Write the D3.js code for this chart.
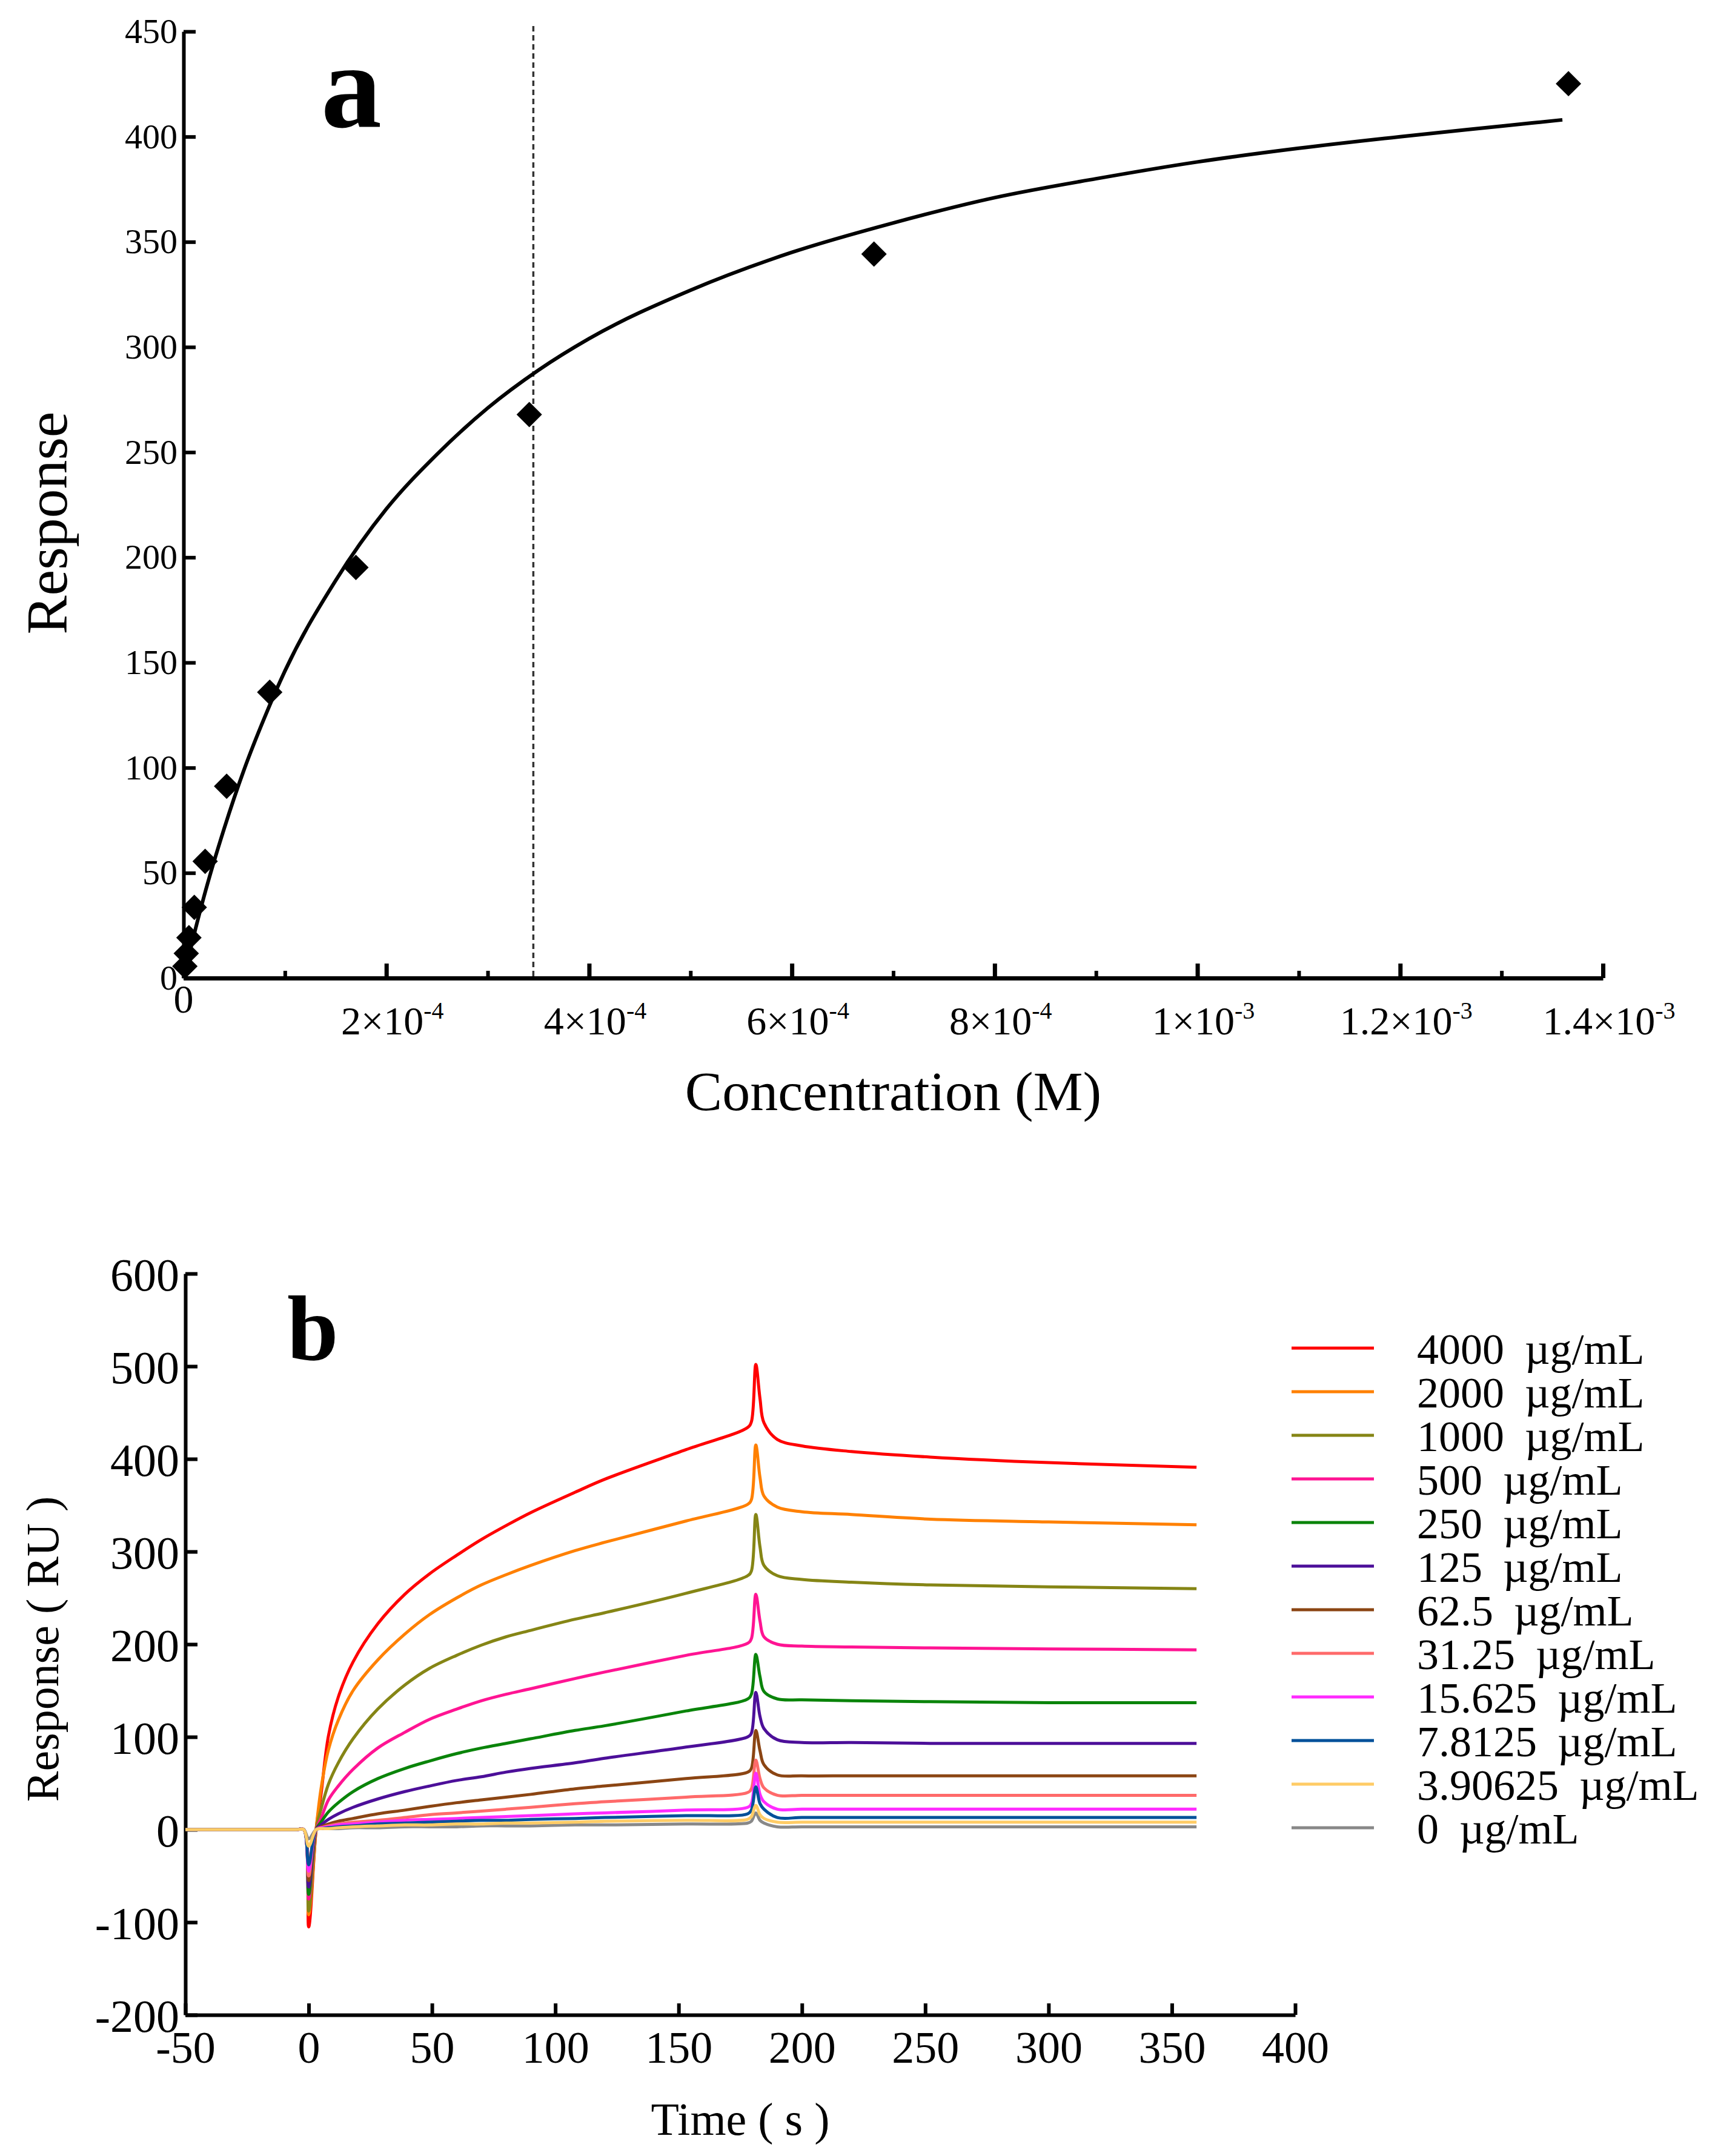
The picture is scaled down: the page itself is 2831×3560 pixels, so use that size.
<!DOCTYPE html>
<html><head><meta charset="utf-8">
<script src="https://cdn.jsdelivr.net/npm/d3@7"></script>
<style>
html,body{margin:0;padding:0;background:#fff;}
svg{display:block;}
text{font-family:"Liberation Serif","Times New Roman",serif;fill:#000;}
</style>
</head><body>
<svg id="chart" width="2831" height="3560"></svg>
<script>
// ---------- Panel a data ----------
const concM   = [1.33e-6, 2.66e-6, 5.3e-6, 1.06e-5, 2.13e-5, 4.25e-5, 8.5e-5, 1.7e-4, 3.41e-4, 6.81e-4, 1.366e-3];
const respA   = [5.6, 11.7, 19.2, 33.6, 55.5, 91.2, 135.9, 195.2, 267.9, 344.2, 425.2];
const fitConc = [0, 1e-5, 2e-5, 4e-5, 6e-5, 8e-5, 1e-4, 1.5e-4, 2e-4, 2.5e-4, 3e-4, 3.5e-4, 4e-4, 5e-4, 6e-4, 7e-4, 8e-4, 9e-4, 1e-3, 1.1e-3, 1.2e-3, 1.3e-3, 1.36e-3];
const fitResp = [0, 20, 38.5, 71, 99.5, 124, 146, 189, 223, 249, 271, 289, 304, 327, 345, 359, 371, 380, 388, 394.5, 400, 405, 408];
const kdLine  = 3.45e-4;
const xTicksA    = [0, 2e-4, 4e-4, 6e-4, 8e-4, 1e-3, 1.2e-3, 1.4e-3];
const xMinorA    = [1e-4, 3e-4, 5e-4, 7e-4, 9e-4, 1.1e-3, 1.3e-3];
const xTickMantA = ["0", "2", "4", "6", "8", "1", "1.2", "1.4"];
const xTickExpA  = ["", "-4", "-4", "-4", "-4", "-3", "-3", "-3"];
const yTicksA    = [0, 50, 100, 150, 200, 250, 300, 350, 400, 450];

// ---------- Panel b data ----------
const timeS = [-50, -5, -2, 0, 3, 5, 8, 12, 18, 28, 39, 49, 60, 70, 80, 90, 108, 120, 153, 178, 179.5, 181.3, 183, 184.6, 190, 200, 220, 252, 300, 360];
const concLabels = ["4000", "2000", "1000", "500", "250", "125", "62.5", "31.25", "15.625", "7.8125", "3.90625", "0"];
const seriesColors = ["#FF0000", "#FF8000", "#858515", "#FF1493", "#0A840A", "#4C0F99", "#8B4513", "#FF6A6A", "#FF2BFF", "#00509A", "#FFCC66", "#888888"];
const r4000   = [0,0,0,-105,0,38,101,143,181,222,254,276,296,313,328,342,364,378,410,434,440,502,465,439,421,414,408,402,396,391];
const r2000   = [0,0,0,-92,0,44,86,118,150,183,211,232,250,264,275,285,301,310,333,351,356,415,380,360,348,343,340,335,332,329];
const r1000   = [0,0,0,-88,0,22,49,72,98,130,156,174,188,199,208,215,227,234,255,274,279,340,305,285,274,270,267,264,262,260];
const r500    = [0,0,0,-75,0,12,32,47,65,88,105,119,130,139,146,152,163,170,188,201,206,254,225,208,200,198,197,196,195,194];
const r250    = [0,0,0,-70,0,8,19,29,41,55,66,74,82,88,93,98,107,112,128,141,146,189,165,149,141,140,139,138,137,137];
const r125    = [0,0,0,-62,0,5,11,17,24,33,41,47,53,57,62,66,72,77,89,100,104,148,122,109,97,94,94,93,93,93];
const r62_5   = [0,0,0,-55,0,3,6,9,12,17,21,25,29,32,35,38,44,47,55,62,66,107,85,70,59,58,58,58,58,58];
const r31_25  = [0,0,0,-50,0,2,4,6,8,10,13,16,18,20,22,24,28,30,35,40,44,75,55,45,37,37,37,37,37,37];
const r15_625 = [0,0,0,-45,0,2,3,5,6,8,10,11,12,13,14,15,17,18,21,24,28,61,38,30,22,22,22,22,22,22];
const r7_8125 = [0,0,0,-38,0,1,2,3,4,6,7,8,9,10,10,11,12,13,15,17,21,46,28,22,13,13,13,13,13,13];
const r3_906  = [0,0,0,-18,0,1,1,2,3,4,5,5,6,6,7,7,8,9,10,11,14,26,16,12,8,8,8,8,8,8];
const r0      = [0,0,0,-10,0,1,1,1,2,2,3,3,3,4,4,4,5,5,6,7,9,18,10,7,3,3,3,3,3,3];
const seriesValues = [r4000, r2000, r1000, r500, r250, r125, r62_5, r31_25, r15_625, r7_8125, r3_906, r0];
const xTicksB = [-50, 0, 50, 100, 150, 200, 250, 300, 350, 400];
const yTicksB = [-200, -100, 0, 100, 200, 300, 400, 500, 600];

const svg = d3.select("#chart");
const FONT = "Liberation Serif";
const hyphenFmt = d => String(d).replace("\u2212", "-");

function styleAxis(g, sw, fs) {
  g.attr("font-family", FONT).attr("font-size", fs);
  g.selectAll("path.domain").attr("stroke", "#000").attr("stroke-width", sw);
  g.selectAll("line").attr("stroke", "#000").attr("stroke-width", sw);
  g.selectAll("text").attr("fill", "#000");
}

// ================= Panel a =================
const xA = d3.scaleLinear().domain([0, 1.4e-3]).range([303, 2646]);
const yA = d3.scaleLinear().domain([0, 450]).range([1615, 52]);
const gA = svg.append("g");

gA.append("line")
  .attr("x1", xA(kdLine)).attr("x2", xA(kdLine))
  .attr("y1", 43).attr("y2", yA(0))
  .attr("stroke", "#333").attr("stroke-width", 3.5).attr("stroke-dasharray", "9,6");

const yAxA = gA.append("g").attr("transform", `translate(${xA(0)},0)`)
  .call(d3.axisLeft(yA).tickValues(yTicksA).tickSizeInner(-20).tickSizeOuter(0).tickPadding(10).tickFormat(hyphenFmt));
styleAxis(yAxA, 6, 58);

const xAxA = gA.append("g").attr("transform", `translate(0,${yA(0)})`)
  .call(d3.axisBottom(xA).tickValues(xTicksA).tickSizeInner(-24).tickSizeOuter(0).tickFormat(""));
styleAxis(xAxA, 7, 58);
const xAxAm = gA.append("g").attr("transform", `translate(0,${yA(0)})`)
  .call(d3.axisBottom(xA).tickValues(xMinorA).tickSizeInner(-12).tickSizeOuter(0).tickFormat(""));
styleAxis(xAxAm, 6, 58);
xAxAm.select("path.domain").remove();

xTicksA.forEach((v, i) => {
  const t = gA.append("text")
    .attr("x", xA(v) + (i === 0 ? 0 : 10))
    .attr("y", i === 0 ? 1672 : 1708)
    .attr("text-anchor", "middle")
    .attr("font-family", FONT).attr("font-size", 66);
  t.append("tspan").text(xTickMantA[i] + (xTickExpA[i] ? "×10" : ""));
  if (xTickExpA[i]) {
    t.append("tspan").attr("font-size", 40).attr("dy", -26).text(xTickExpA[i]);
  }
});

const lineA = d3.line().x((d, i) => xA(fitConc[i])).y(d => yA(d)).curve(d3.curveMonotoneX);
gA.append("path").datum(fitResp).attr("d", lineA)
  .attr("fill", "none").attr("stroke", "#000").attr("stroke-width", 6);

const diamond = d3.symbol().type(d3.symbolSquare).size(880);
gA.selectAll("path.pt").data(respA).enter().append("path")
  .attr("class", "pt")
  .attr("d", diamond)
  .attr("transform", (d, i) => `translate(${xA(concM[i])},${yA(d)}) rotate(45)`)
  .attr("fill", "#000");

gA.append("text").attr("transform", `translate(110,${(yA(0) + yA(450)) / 2 + 30}) rotate(-90)`)
  .attr("text-anchor", "middle").attr("font-family", FONT).attr("font-size", 96).text("Response");
gA.append("text").attr("x", (xA(0) + xA(1.4e-3)) / 2).attr("y", 1833)
  .attr("text-anchor", "middle").attr("font-family", FONT).attr("font-size", 92).text("Concentration (M)");
gA.append("text").attr("x", 530).attr("y", 210)
  .attr("font-family", FONT).attr("font-weight", "bold").attr("font-size", 200).text("a");

// ================= Panel b =================
const xB = d3.scaleLinear().domain([-50, 400]).range([306, 2138]);
const yB = d3.scaleLinear().domain([-200, 600]).range([3327, 2103]);
const gB = svg.append("g");

const yAxB = gB.append("g").attr("transform", `translate(${xB(-50)},0)`)
  .call(d3.axisLeft(yB).tickValues(yTicksB).tickSizeInner(-20).tickSizeOuter(0).tickPadding(10).tickFormat(hyphenFmt));
styleAxis(yAxB, 6, 76);
yAxB.selectAll("text").attr("dy", "0.36em");

const xAxB = gB.append("g").attr("transform", `translate(0,${yB(-200)})`)
  .call(d3.axisBottom(xB).tickValues(xTicksB).tickSizeInner(-19).tickSizeOuter(0).tickPadding(26).tickFormat(hyphenFmt));
styleAxis(xAxB, 6, 74);

const lineB = d3.line().x((d, i) => xB(timeS[i])).y(d => yB(d)).curve(d3.curveCatmullRom.alpha(0.5));
const drawOrder = [0, 1, 2, 3, 4, 5, 6, 7, 8, 9, 11, 10];
drawOrder.forEach(k => {
  gB.append("path").datum(seriesValues[k]).attr("d", lineB)
    .attr("fill", "none").attr("stroke", seriesColors[k]).attr("stroke-width", 5)
    .attr("stroke-linejoin", "round");
});

const legG = gB.append("g");
concLabels.forEach((lab, i) => {
  const y = 2226 + i * 72;
  legG.append("line").attr("x1", 2132).attr("x2", 2268).attr("y1", y).attr("y2", y)
    .attr("stroke", seriesColors[i]).attr("stroke-width", 5);
  const t = legG.append("text").attr("x", 2339).attr("y", y + 26)
    .attr("font-family", FONT).attr("font-size", 72);
  t.append("tspan").text(lab);
  t.append("tspan").attr("dx", 34).text("µg/mL");
});

gB.append("text").attr("transform", `translate(96,${(yB(-200) + yB(600)) / 2 + 8}) rotate(-90)`)
  .attr("text-anchor", "middle").attr("font-family", FONT).attr("font-size", 76).text("Response ( RU )");
gB.append("text").attr("x", (xB(-50) + xB(400)) / 2).attr("y", 3525)
  .attr("text-anchor", "middle").attr("font-family", FONT).attr("font-size", 76).text("Time ( s )");
gB.append("text").attr("x", 474).attr("y", 2245)
  .attr("font-family", FONT).attr("font-weight", "bold").attr("font-size", 152).text("b");
</script>
</body></html>
